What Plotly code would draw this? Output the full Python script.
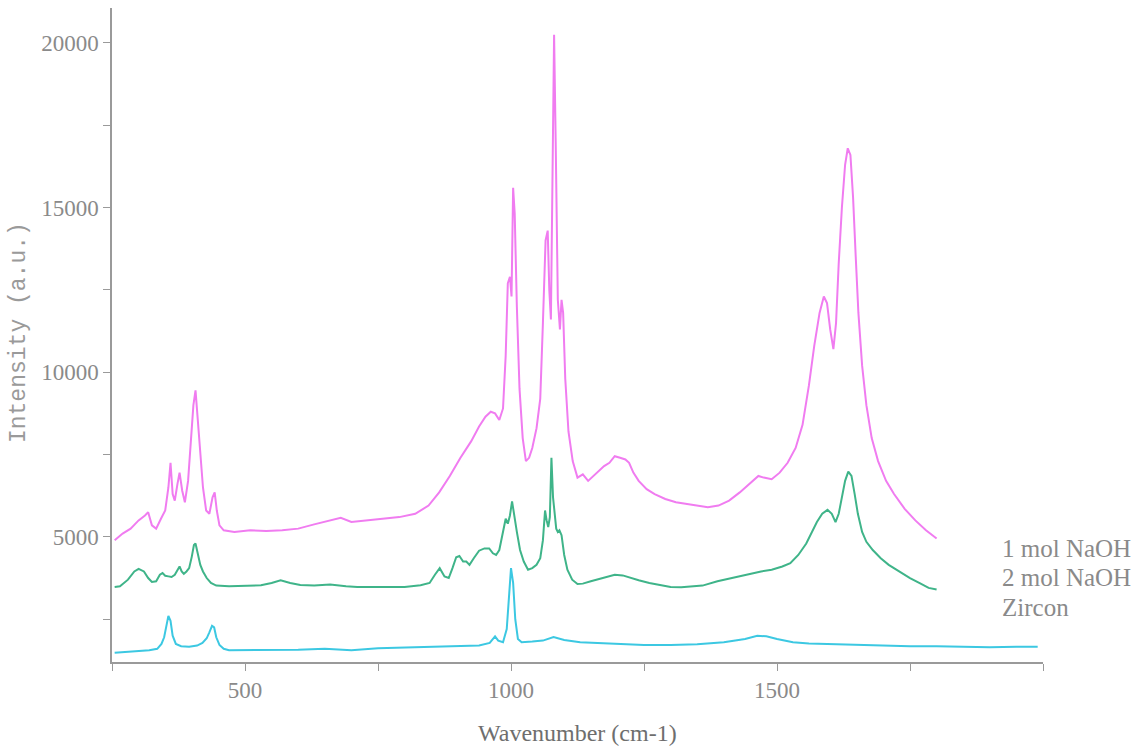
import plotly.graph_objects as go

# Raman spectra: wavenumber (cm-1) and intensity (a.u.) per sample
naoh1_w = [255, 270, 285, 300, 312, 318, 325, 333, 342, 350, 356, 360, 364, 368, 373, 377, 382, 387,
           393, 398, 403, 407, 411, 416, 421, 427, 433, 439, 443, 447, 452, 460, 480, 510, 540, 570,
           600, 630, 660, 680, 700, 730, 760, 790, 820, 845, 865, 885, 905, 925, 940, 952, 962, 970,
           978, 985, 990, 994, 998, 1001, 1004, 1007, 1011, 1016, 1022, 1028, 1034, 1040, 1048, 1055,
           1060, 1065, 1069, 1072, 1075, 1078, 1081, 1084, 1088, 1092, 1095, 1098, 1102, 1108, 1116,
           1125, 1135, 1145, 1155, 1165, 1175, 1185, 1195, 1205, 1215, 1222, 1230, 1240, 1255, 1270,
           1290, 1310, 1330, 1350, 1370, 1390, 1410, 1430, 1450, 1465, 1475, 1490, 1505, 1520, 1535,
           1548, 1560, 1570, 1580, 1588, 1594, 1600, 1606, 1611, 1616, 1622, 1628, 1633, 1638, 1643,
           1648, 1653, 1660, 1668, 1678, 1690, 1705, 1720, 1740, 1760, 1780, 1800]
naoh1_i = [4900, 5100, 5250, 5500, 5650, 5750, 5350, 5250, 5550, 5800, 6500, 7250, 6300, 6100, 6600,
           6950, 6400, 6050, 6700, 7800, 9000, 9450, 8600, 7500, 6500, 5800, 5700, 6200, 6350, 5800,
           5350, 5200, 5150, 5200, 5180, 5200, 5250, 5380, 5500, 5580, 5450, 5500, 5550, 5600, 5700,
           5950, 6350, 6850, 7400, 7900, 8350, 8650, 8800, 8750, 8550, 8900, 10500, 12700, 12900,
           12300, 15600, 14800, 12000, 9500, 8000, 7300, 7400, 7700, 8300, 9200, 11500, 14000, 14300,
           12500, 11600, 15500, 20250, 17000, 12200, 11300, 12200, 11800, 9800, 8200, 7300, 6800,
           6900, 6700, 6850, 7000, 7150, 7250, 7450, 7400, 7350, 7250, 6950, 6700, 6450, 6300, 6150,
           6050, 6000, 5950, 5900, 5950, 6100, 6350, 6650, 6850, 6800, 6750, 6950, 7250, 7700, 8400,
           9600, 10800, 11800, 12300, 12100, 11300, 10700, 11500, 13300, 15000, 16300, 16800, 16600,
           15300, 13500, 11800, 10200, 9000, 8000, 7300, 6700, 6300, 5850, 5500, 5200, 4950]

naoh2_w = [255, 265, 280, 292, 300, 310, 318, 325, 333, 340, 345, 350, 356, 362, 368, 372, 377, 381,
           385, 390, 395, 400, 404, 407, 411, 416, 421, 428, 436, 446, 470, 500, 530, 550, 567, 585,
           604, 630, 660, 690, 711, 740, 770, 800, 830, 847, 857, 866, 875, 883, 890, 897, 903, 910,
           916, 922, 930, 940, 950, 959, 966, 972, 978, 985, 990, 994, 998, 1002, 1006, 1011, 1017,
           1024, 1032, 1040, 1048, 1055, 1060, 1064, 1067, 1070, 1073, 1076, 1079, 1082, 1085, 1088,
           1091, 1095, 1100, 1106, 1115, 1125, 1135, 1150, 1165, 1180, 1195, 1210, 1225, 1240, 1260,
           1280, 1300, 1320, 1340, 1360, 1388, 1410, 1430, 1450, 1470, 1490, 1510, 1525, 1540, 1555,
           1565, 1575, 1585, 1595, 1603, 1610, 1616, 1622, 1628, 1634, 1640, 1646, 1652, 1660, 1668,
           1680, 1695, 1710, 1730, 1750, 1770, 1785, 1800]
naoh2_i = [3480, 3500, 3700, 3950, 4030, 3950, 3750, 3630, 3650, 3850, 3900, 3820, 3800, 3780, 3850,
           3950, 4100, 3950, 3880, 3950, 4050, 4400, 4750, 4800, 4500, 4150, 3950, 3750, 3600, 3520,
           3500, 3510, 3530, 3600, 3680, 3600, 3540, 3520, 3550, 3500, 3480, 3480, 3470, 3480, 3530,
           3600, 3850, 4050, 3800, 3750, 4050, 4380, 4420, 4250, 4250, 4150, 4350, 4580, 4650, 4650,
           4500, 4450, 4600, 5150, 5550, 5400, 5650, 6080, 5600, 5150, 4600, 4250, 4000, 4050, 4150,
           4350, 4900, 5800, 5500, 5300, 5600, 7400, 6200, 5650, 5250, 5150, 5200, 5050, 4450, 4000,
           3700, 3570, 3580, 3650, 3720, 3800, 3850, 3830, 3750, 3680, 3600, 3530, 3480, 3470, 3500,
           3520, 3650, 3730, 3800, 3880, 3950, 4000, 4100, 4200, 4450, 4800, 5150, 5450, 5700, 5820,
           5700, 5450, 5700, 6200, 6700, 6980, 6850, 6300, 5700, 5150, 4850, 4600, 4350, 4150, 3950,
           3750, 3580, 3450, 3400]

zircon_w = [255, 275, 300, 320, 335, 343, 348, 352, 356, 360, 364, 370, 380, 395, 410, 420, 428, 433,
            438, 442, 446, 452, 460, 470, 500, 550, 600, 650, 700, 750, 800, 850, 900, 940, 960, 970,
            976, 985, 992, 996, 1000, 1004, 1008, 1013, 1020, 1040, 1060, 1080, 1100, 1130, 1160,
            1200, 1250, 1300, 1350, 1400, 1440, 1463, 1480, 1500, 1530, 1560, 1600, 1650, 1700, 1750,
            1800, 1850, 1900, 1950, 1990]
zircon_i = [1480, 1500, 1530, 1560, 1600, 1750, 1950, 2300, 2600, 2450, 2000, 1750, 1680, 1660, 1700,
            1780, 1920, 2100, 2300, 2250, 1950, 1720, 1600, 1560, 1560, 1580, 1570, 1600, 1560, 1620,
            1640, 1660, 1680, 1700, 1780, 1980, 1850, 1800, 2200, 3000, 4050, 3600, 2500, 1900, 1800,
            1820, 1850, 1960, 1870, 1800, 1780, 1740, 1720, 1720, 1740, 1800, 1900, 2000, 1980, 1900,
            1800, 1760, 1740, 1720, 1700, 1680, 1680, 1660, 1650, 1660, 1660]

series_names = ["1 mol NaOH", "2 mol NaOH", "Zircon"]
series_colors = ["#f07cf0", "#3fb489", "#3cc8e2"]

x_tickvals = [250, 500, 750, 1000, 1250, 1500, 1750, 2000]
x_ticktext = ["", "500", "", "1000", "", "1500", "", ""]
y_tickvals = [2500, 5000, 7500, 10000, 12500, 15000, 17500, 20000]
y_ticktext = ["", "5000", "", "10000", "", "15000", "", "20000"]

GREY_TEXT = "#8a8a8a"
AXIS_GREY = "#9a9a9a"
SERIF = "Liberation Serif, Times New Roman, serif"

fig = go.Figure()
for w, i, name, color in zip([naoh1_w, naoh2_w, zircon_w], [naoh1_i, naoh2_i, zircon_i],
                             series_names, series_colors):
    fig.add_trace(go.Scatter(x=w, y=i, mode="lines", name=name,
                             line=dict(color=color, width=2), showlegend=False))

axis_common = dict(showline=True, linecolor=AXIS_GREY, linewidth=1.5, showgrid=False,
                   zeroline=False, ticks="outside", ticklen=7, tickcolor=AXIS_GREY,
                   tickwidth=1.2, tickmode="array",
                   tickfont=dict(family=SERIF, size=23, color=GREY_TEXT))

fig.update_xaxes(range=[250, 2000], tickvals=x_tickvals, ticktext=x_ticktext, **axis_common)
fig.update_yaxes(range=[1200, 21060], tickvals=y_tickvals, ticktext=y_ticktext, **axis_common)

annotations = [
    dict(text="Wavenumber (cm-1)", xref="paper", yref="paper", x=0.5, y=0, yshift=-71,
         xanchor="center", yanchor="middle", showarrow=False,
         font=dict(family=SERIF, size=24, color="#6e6e6e")),
    dict(text="Intensity (a.u.)", xref="paper", yref="paper", x=0, y=0.503, xshift=-93,
         xanchor="center", yanchor="middle", textangle=-90, showarrow=False,
         font=dict(family="Liberation Mono, Courier New, monospace", size=23, color="#9a9a9a")),
]
for k, name in enumerate(series_names):
    annotations.append(dict(text=name, xref="paper", yref="paper", x=0.954, y=0.174 - k * 0.045,
                            xanchor="left", yanchor="middle", showarrow=False,
                            font=dict(family=SERIF, size=25, color=GREY_TEXT)))

fig.update_layout(width=1147, height=748, margin=dict(l=112, r=104, t=8, b=86),
                  paper_bgcolor="white", plot_bgcolor="white", annotations=annotations)

fig.write_html("out.html")
